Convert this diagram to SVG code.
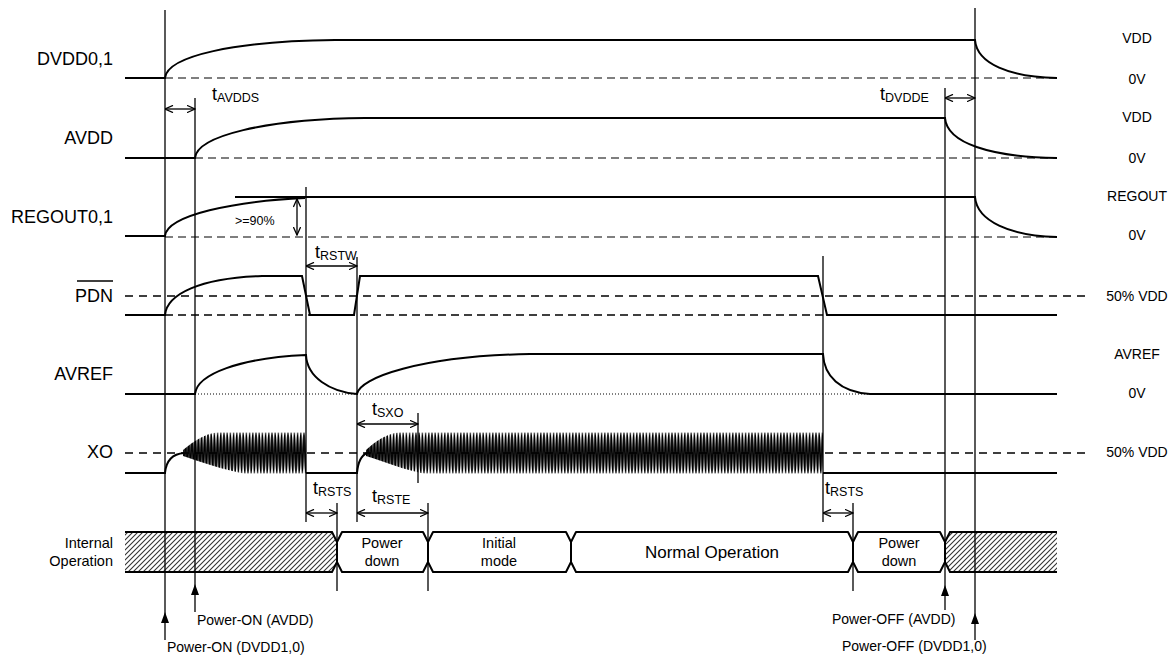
<svg xmlns="http://www.w3.org/2000/svg" width="1175" height="661" viewBox="0 0 1175 661">
<style>
text{font-family:"Liberation Sans",Arial,sans-serif;fill:#000}
.lbl{font-size:18px;text-anchor:end}
.rl{font-size:14px;text-anchor:middle}
.t{font-size:18px}
.sub{font-size:12.5px}
.sm{font-size:12.5px}
.ev{font-size:14px}
.bus{font-size:14.5px;text-anchor:middle}
.sig{fill:none;stroke:#000;stroke-width:2}
.vl{fill:none;stroke:#000;stroke-width:1.3}
.gd{fill:none;stroke:#555;stroke-width:1.3;stroke-dasharray:8 5}
.bd{fill:none;stroke:#000;stroke-width:1.6;stroke-dasharray:8 6}
.dot{fill:none;stroke:#000;stroke-width:1;stroke-dasharray:1 2}
.dim{fill:none;stroke:#000;stroke-width:1.3;marker-start:url(#ah);marker-end:url(#ah)}
.box{fill:#fff;stroke:#000;stroke-width:2;stroke-linejoin:round}
</style>
<defs>
<marker id="ah" viewBox="0 0 10 10" refX="10" refY="5" markerWidth="9" markerHeight="8" markerUnits="userSpaceOnUse" orient="auto-start-reverse">
<path d="M0,0.5 L10,5 L0,9.5" fill="none" stroke="#000" stroke-width="1.6"/>
</marker>
<pattern id="osc" patternUnits="userSpaceOnUse" x="0" y="431" width="3.2" height="44">
<path d="M-1.6,42 C-0.8,42 -0.8,2 0,2 C0.8,2 0.8,42 1.6,42 C2.4,42 2.4,2 3.2,2 C4,2 4,42 4.8,42" fill="none" stroke="#000" stroke-width="1.5"/>
</pattern>
<pattern id="hatch" patternUnits="userSpaceOnUse" width="5" height="5">
<path d="M-1,1 L1,-1 M0,5 L5,0 M4,6 L6,4" stroke="#333" stroke-width="1.1"/>
</pattern>
<clipPath id="env1"><path d="M183,450 C195,440 205,434 218,432 L306,432 L306,474 L245,474 C225,470 200,462 183,456 Z"/></clipPath>
<clipPath id="env2"><path d="M366,450 C375,442 385,434 400,432 L823,432 L823,474 L425,474 C405,470 385,462 366,456 Z"/></clipPath>
</defs>
<rect width="1175" height="661" fill="#fff"/>

<g id="reference-lines">
<path class="gd" d="M165,78 H1057"/>
<path class="gd" d="M195,158 H1057"/>
<path class="gd" d="M165,237 H1057"/>
<path class="bd" d="M125,296 H1090"/>
<path class="gd" d="M165,315 H823" style="stroke:#000"/>
<path class="dot" d="M195,394 H870"/>
<path class="bd" d="M125,453 H1090"/>
</g>

<g id="sig-dvdd">
<text class="lbl" x="113" y="65">DVDD0,1</text>
<path class="sig" d="M125,78 H165 C167,56 235,41 335,40 H975 C977,64 1010,77 1057,78"/>
<text class="rl" x="1137" y="43">VDD</text>
<text class="rl" x="1137" y="84">0V</text>
</g>

<g id="sig-avdd">
<text class="lbl" x="113" y="144">AVDD</text>
<path class="sig" d="M125,158 H195 C197,136 265,119 365,118 H945 C947,143 990,157 1057,158"/>
<text class="rl" x="1137" y="122">VDD</text>
<text class="rl" x="1137" y="163">0V</text>
</g>

<g id="sig-regout">
<text class="lbl" x="113" y="223">REGOUT0,1</text>
<path class="sig" d="M125,236 H165 C167,215 235,201 305,198"/>
<path class="sig" d="M235,197 H975 C977,221 1010,236 1057,237"/>
<text class="sm" x="235" y="225">&gt;=90%</text>
<path class="dim" d="M297,199 V235"/>
<text class="rl" x="1137" y="201">REGOUT</text>
<text class="rl" x="1137" y="240">0V</text>
</g>

<g id="sig-pdn">
<text class="lbl" x="113" y="302">PDN</text>
<path d="M77,281 H113" stroke="#000" stroke-width="1.3"/>
<path class="sig" d="M125,315 H165 C167,294 200,278 262,276 H302 L310,315 H354 L360,276 H818 L827,315 H1057"/>
<text class="rl" x="1137" y="301">50% VDD</text>
</g>

<g id="sig-avref">
<text class="lbl" x="113" y="380">AVREF</text>
<path class="sig" d="M125,394 H195 C197,374 240,358 306,355 C307,377 330,392 357,394 C359,378 420,356 530,354 H823 C824,376 840,392 870,394 H1057"/>
<text class="rl" x="1137" y="359">AVREF</text>
<text class="rl" x="1137" y="398">0V</text>
</g>

<g id="sig-xo">
<text class="lbl" x="113" y="458">XO</text>
<path class="sig" d="M125,473 H165 C166,462 171,454 184,453"/>
<rect x="183" y="431" width="123" height="44" fill="url(#osc)" clip-path="url(#env1)"/>
<path class="sig" d="M306,473 H357 C358,462 362,455 367,453"/>
<rect x="366" y="431" width="457" height="44" fill="url(#osc)" clip-path="url(#env2)"/>
<path class="sig" d="M823,473 H1057"/>
<text class="rl" x="1137" y="457">50% VDD</text>
</g>

<g id="bus-internal">
<text class="bus" x="113" y="548" style="text-anchor:end">Internal</text>
<text class="bus" x="113" y="566" style="text-anchor:end">Operation</text>
<path d="M125,532 H332 L337,542 V562 L332,572 H125 Z" fill="url(#hatch)"/>
<path class="sig" d="M125,532 H332 L337,542 V562 L332,572 H125"/>
<path class="box" d="M342,532 H423 L428,542 V562 L423,572 H342 L337,562 V542 Z"/>
<text class="bus" x="382" y="548">Power</text>
<text class="bus" x="382" y="566">down</text>
<path class="box" d="M433,532 H566 L571,542 V562 L566,572 H433 L428,562 V542 Z"/>
<text class="bus" x="499" y="548">Initial</text>
<text class="bus" x="499" y="566">mode</text>
<path class="box" d="M576,532 H848 L853,542 V562 L848,572 H576 L571,562 V542 Z"/>
<text class="bus" x="712" y="558" style="font-size:17px">Normal Operation</text>
<path class="box" d="M858,532 H940 L945,542 V562 L940,572 H858 L853,562 V542 Z"/>
<text class="bus" x="899" y="548">Power</text>
<text class="bus" x="899" y="566">down</text>
<path d="M950,532 H1057 V572 H950 L945,562 V542 Z" fill="url(#hatch)"/>
<path class="sig" d="M1057,532 H950 L945,542 V562 L950,572 H1057"/>
</g>

<g id="connectors">
<path class="vl" d="M165,10 V640"/>
<path class="vl" d="M195,98 V612"/>
<path class="vl" d="M306,187 V522"/>
<path class="vl" d="M357,257 V522"/>
<path class="vl" d="M823,256 V522"/>
<path class="vl" d="M945,88 V610"/>
<path class="vl" d="M975,8 V640"/>
<path class="vl" d="M418,413 V483"/>
<path class="vl" d="M337,503 V591"/>
<path class="vl" d="M428,503 V591"/>
<path class="vl" d="M853,503 V591"/>
<path class="dim" d="M165,109 H195"/>
<path class="dim" d="M945,98 H975"/>
<path class="dim" d="M306,266 H357"/>
<path class="dim" d="M357,424 H418"/>
<path class="dim" d="M306,513 H337"/>
<path class="dim" d="M357,513 H428"/>
<path class="dim" d="M823,513 H853"/>
<path d="M165,612 L161,623 H169 Z M195,584 L191,595 H199 Z M945,585 L941,596 H949 Z M975,613 L971,624 H979 Z" fill="#000"/>
</g>

<g id="timing-labels">
<text class="t" x="212" y="100">t<tspan class="sub" dy="2">AVDDS</tspan></text>
<text class="t" x="880" y="100">t<tspan class="sub" dy="2">DVDDE</tspan></text>
<text class="t" x="315" y="258">t<tspan class="sub" dy="2">RSTW</tspan></text>
<text class="t" x="372" y="415">t<tspan class="sub" dy="2">SXO</tspan></text>
<text class="t" x="313" y="494">t<tspan class="sub" dy="2">RSTS</tspan></text>
<text class="t" x="372" y="502">t<tspan class="sub" dy="2">RSTE</tspan></text>
<text class="t" x="825" y="494">t<tspan class="sub" dy="2">RSTS</tspan></text>
</g>

<g id="event-labels">
<text class="ev" x="197" y="625">Power-ON (AVDD)</text>
<text class="ev" x="167" y="652">Power-ON (DVDD1,0)</text>
<text class="ev" x="832" y="624">Power-OFF (AVDD)</text>
<text class="ev" x="842" y="651">Power-OFF (DVDD1,0)</text>
</g>
</svg>
